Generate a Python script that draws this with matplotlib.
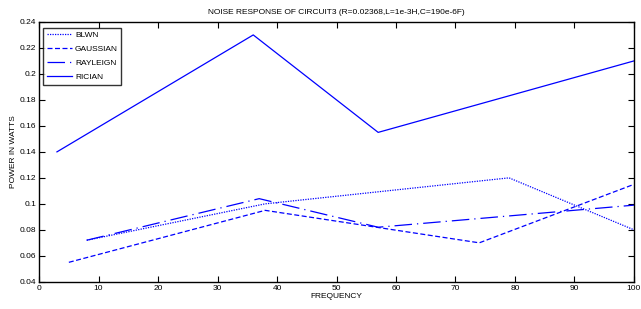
import matplotlib
matplotlib.use("Agg")
import matplotlib.pyplot as plt

plt.rcParams['font.family'] = ['Liberation Sans', 'DejaVu Sans']

# data
blwn_f = [8, 38, 79, 100]
blwn_p = [0.072, 0.100, 0.120, 0.080]
gauss_f = [5, 38, 74, 100]
gauss_p = [0.055, 0.095, 0.070, 0.115]
rayl_f = [8, 37, 57, 100]
rayl_p = [0.072, 0.104, 0.082, 0.099]
rician_f = [3, 36, 57, 100]
rician_p = [0.140, 0.230, 0.155, 0.210]

xticks = list(range(0, 101, 10))
yticks = [0.04, 0.06, 0.08, 0.1, 0.12, 0.14, 0.16, 0.18, 0.2, 0.22, 0.24]
ylabels = ['0.04', '0.06', '0.08', '0.1', '0.12', '0.14', '0.16', '0.18', '0.2', '0.22', '0.24']

fig = plt.figure(figsize=(6.41, 3.09), dpi=100)
ax = fig.add_axes([0.061, 0.088, 0.928, 0.841])

ax.plot(blwn_f, blwn_p, color='blue', lw=0.9, linestyle=(0, (1, 1)), label='BLWN')
ax.plot(gauss_f, gauss_p, color='blue', lw=0.9, linestyle=(0, (4, 2)), label='GAUSSIAN')
ax.plot(rayl_f, rayl_p, color='blue', lw=0.9, linestyle=(0, (14, 4, 1, 4)), label='RAYLEIGN')
ax.plot(rician_f, rician_p, color='blue', lw=0.9, label='RICIAN')

ax.set_xlim(0, 100)
ax.set_ylim(0.04, 0.24)
ax.set_xticks(xticks)
ax.set_yticks(yticks)
ax.set_yticklabels(ylabels)
ax.tick_params(direction='in', top=True, right=True, labelsize=6, length=4, width=0.8, pad=2)
for s in ax.spines.values():
    s.set_linewidth(1.0)

ax.set_title('NOISE RESPONSE OF CIRCUIT3 (R=0.02368,L=1e-3H,C=190e-6F)', fontsize=6, pad=6)
ax.set_xlabel('FREQUENCY', fontsize=6, labelpad=1)
ax.set_ylabel('POWER IN WATTS', fontsize=6, labelpad=2)

leg = ax.legend(loc='upper left', fontsize=6, frameon=True, fancybox=False,
                edgecolor='black', handlelength=3.0, borderpad=0.4, labelspacing=0.75,
                handletextpad=0.4, borderaxespad=0, bbox_to_anchor=(0.007, 0.977))
leg.get_frame().set_linewidth(1.0)

fig.savefig('out.png', dpi=100)
